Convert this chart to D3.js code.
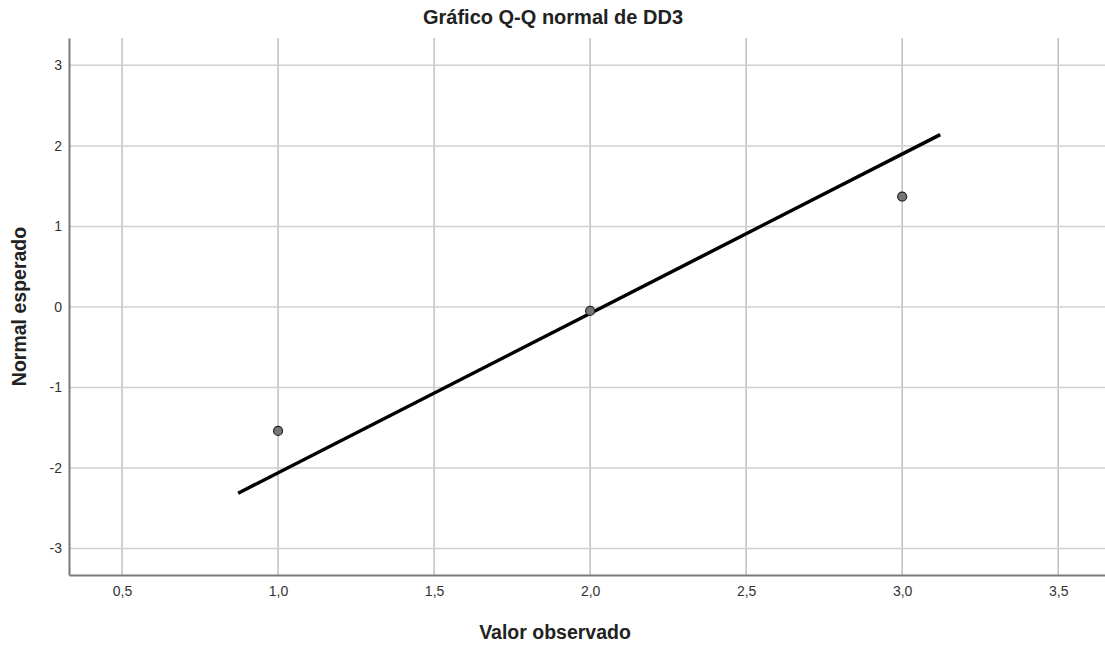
<!DOCTYPE html>
<html>
<head>
<meta charset="utf-8">
<script src="https://cdn.jsdelivr.net/npm/d3@7"></script>
<style>
  body { margin: 0; background: #fff; }
  text { font-family: "Liberation Sans", Arial, sans-serif; }
</style>
</head>
<body>
<svg id="chart" width="1105" height="645"></svg>
<script>
// observed values and expected normal quantiles
const observed = [1.0, 2.0, 3.0];
const expected = [-1.54, -0.05, 1.37];
// reference line end points
const lineX = [0.872, 3.122];
const lineY = [-2.314, 2.14];
const xTicks = [0.5, 1.0, 1.5, 2.0, 2.5, 3.0, 3.5];
const yTicks = [-3, -2, -1, 0, 1, 2, 3];
const titleText = 'Gráfico Q-Q normal de DD3';
const xLabel = 'Valor observado';
const yLabel = 'Normal esperado';

const svg = d3.select('#chart');
const plotL = 69, plotR = 1105, plotT = 38, plotB = 575;

const scaleX = d3.scaleLinear().domain([0.33, 3.65]).range([plotL, plotR]);
const scaleY = d3.scaleLinear().domain([-3.33, 3.34]).range([plotB, plotT]);
const fmt = d => d3.format('.1f')(d).replace('.', ',');

// grid
const grid = svg.append('g').attr('class', 'grid');
grid.selectAll('line.gx')
    .data(xTicks)
    .join('line')
    .attr('class', 'gx')
    .attr('x1', d => scaleX(d)).attr('x2', d => scaleX(d))
    .attr('y1', plotT).attr('y2', plotB)
    .attr('stroke', '#c0c0c0').attr('stroke-width', 1.5);
grid.selectAll('line.gy')
    .data(yTicks)
    .join('line')
    .attr('class', 'gy')
    .attr('y1', d => scaleY(d)).attr('y2', d => scaleY(d))
    .attr('x1', plotL).attr('x2', plotR)
    .attr('stroke', '#d0d0d0').attr('stroke-width', 1.5);

// axes
const xAxis = svg.append('g')
    .attr('transform', `translate(0,${plotB})`)
    .call(d3.axisBottom(scaleX).tickValues(xTicks).tickFormat(fmt).tickSize(0).tickPadding(11));
const yAxis = svg.append('g')
    .attr('transform', `translate(${plotL},0)`)
    .call(d3.axisLeft(scaleY).tickValues(yTicks).tickFormat(d => String(d)).tickSize(0).tickPadding(7));
[xAxis, yAxis].forEach(a => {
    a.attr('font-size', 14).attr('font-family', '"Liberation Sans", Arial, sans-serif');
    a.select('.domain').attr('stroke', '#7a7a7a').attr('stroke-width', 2);
    a.selectAll('text').attr('fill', '#333');
});

// reference line
svg.append('line')
    .attr('x1', scaleX(lineX[0])).attr('y1', scaleY(lineY[0]))
    .attr('x2', scaleX(lineX[1])).attr('y2', scaleY(lineY[1]))
    .attr('stroke', '#000').attr('stroke-width', 3.5);

// points
svg.selectAll('circle.pt')
    .data(observed.map((d, i) => ({x: d, y: expected[i]})))
    .join('circle')
    .attr('class', 'pt')
    .attr('cx', d => scaleX(d.x))
    .attr('cy', d => scaleY(d.y))
    .attr('r', 4.5)
    .attr('fill', '#777')
    .attr('stroke', '#222')
    .attr('stroke-width', 1.2);

// titles
svg.append('text')
    .attr('x', 553).attr('y', 24)
    .attr('text-anchor', 'middle')
    .attr('font-size', 20).attr('font-weight', 'bold').attr('fill', '#222')
    .text(titleText);
svg.append('text')
    .attr('x', 555).attr('y', 639)
    .attr('text-anchor', 'middle')
    .attr('font-size', 19.5).attr('font-weight', 'bold').attr('fill', '#222')
    .text(xLabel);
svg.append('text')
    .attr('transform', `translate(26,${(plotT + plotB) / 2}) rotate(-90)`)
    .attr('text-anchor', 'middle')
    .attr('font-size', 19.5).attr('font-weight', 'bold').attr('fill', '#222')
    .text(yLabel);
</script>
</body>
</html>
